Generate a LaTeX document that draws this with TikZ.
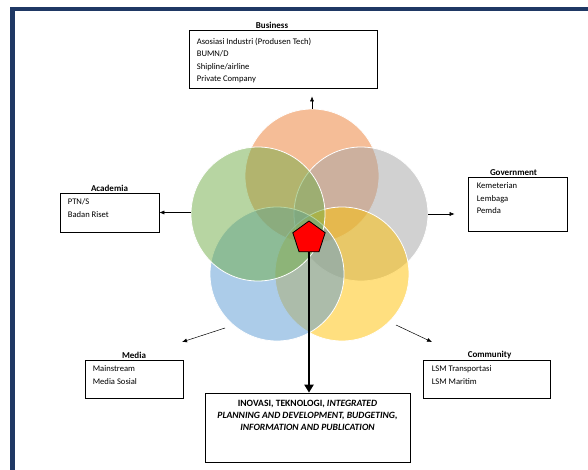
\documentclass[tikz,border=0pt]{standalone}
\usepackage{fontspec}
\setmainfont{Carlito}
\usetikzlibrary{positioning,shapes.geometric,arrows.meta}

\definecolor{framenavy}{HTML}{1F3864}
\definecolor{vorange}{HTML}{ED7D31}
\definecolor{vgray}{HTML}{A5A5A5}
\definecolor{vyellow}{HTML}{FFC000}
\definecolor{vblue}{HTML}{5B9BD5}
\definecolor{vgreen}{HTML}{70AD47}

\tikzset{
  venn/.style={circle, minimum size=134pt, inner sep=0pt, draw=white, line width=0.8pt, fill opacity=0.5},
  boxframe/.style={draw, line width=0.7pt, inner sep=0pt},
  boxtext/.style={font=\fontsize{8.6}{12.3}\selectfont, align=left, inner sep=0pt, anchor=north west},
  boxtitle/.style={font=\fontsize{9}{10}\selectfont\bfseries, inner sep=1pt},
  outarrow/.style={-{Latex[length=5pt,width=4pt]}, line width=0.5pt}
}

\begin{document}
\begin{tikzpicture}[x=1pt,y=-1pt]
\useasboundingbox (0,0) rectangle (588,470);
\fill[white] (0,0) rectangle (588,470);

% frame
\draw[framenavy, line width=4.5pt] (12.25,470) -- (12.25,9.25) -- (588,9.25);

% circles
\node[venn, fill=vorange] (orange) at (312,176) {};
\node[venn, fill=vgray] (gray) at (361,214) {};
\node[venn, fill=vyellow] (yellow) at (342,274) {};
\node[venn, fill=vblue] (blue) at (277,274) {};
\node[venn, fill=vgreen] (green) at (258,214) {};

% centre
\node[regular polygon, regular polygon sides=5, minimum size=34pt, inner sep=0pt,
      fill=red, draw=black, line width=0.8pt] (core) at (309,238) {};

% business
\node[boxframe, minimum width=188pt, minimum height=58pt] (busbox) at (283,59) {};
\node[boxtext] at ([shift={(8,8.5)}]busbox.north west) {Asosiasi Industri (Produsen Tech)\\BUMN/D\\Shipline/airline\\Private Company};
\node[boxtitle, above=0pt of busbox, xshift=-11pt] (bustitle) {Business};

% academia
\node[boxframe, minimum width=99pt, minimum height=39pt] (acabox) at (109.5,212.5) {};
\node[boxtext] at ([shift={(8,6)}]acabox.north west) {PTN/S\\Badan Riset};
\node[boxtitle, above=0pt of acabox] (acatitle) {Academia};

% government
\node[boxframe, minimum width=99pt, minimum height=54pt] (govbox) at (517.5,204) {};
\node[boxtext] at ([shift={(9,6)}]govbox.north west) {Kemeterian\\Lembaga\\Pemda};
\node[boxtitle, above=0pt of govbox, xshift=-4pt] (govtitle) {Government};

% media
\node[boxframe, minimum width=98pt, minimum height=38pt] (medbox) at (134,379) {};
\node[boxtext] at ([shift={(8,6)}]medbox.north west) {Mainstream\\Media Sosial};
\node[boxtitle, above=0pt of medbox] (medtitle) {Media};

% community
\node[boxframe, minimum width=127pt, minimum height=38pt] (combox) at (486.5,379) {};
\node[boxtext] at ([shift={(9,6)}]combox.north west) {LSM Transportasi\\LSM Maritim};
\node[boxtitle, above=0pt of combox, xshift=3pt] (comtitle) {Community};

% output
\node[boxframe, minimum width=205pt, minimum height=69pt] (inobox) at (307.5,427.5) {};
\node[font=\fontsize{9.6}{12}\selectfont\bfseries, align=center, inner sep=0pt, anchor=north]
  at ([yshift=-7pt]inobox.north) {INOVASI, TEKNOLOGI, \textit{INTEGRATED}\\
  \textit{PLANNING AND DEVELOPMENT, BUDGETING,}\\
  \textit{INFORMATION AND PUBLICATION}};

% arrows
\coordinate (medstart) at (225,328);
\coordinate (medend) at (182,342);
\coordinate (comstart) at (396,325);
\coordinate (comend) at (432,342);

\draw[outarrow, shorten >=8pt] (orange.north) -- (orange.north |- busbox.south);
\draw[outarrow] (green.west |- acabox.east) -- (acabox.east);
\draw[outarrow, shorten >=13pt] (gray.east) -- (govbox.west |- gray.east);
\draw[outarrow] (medstart) -- (medend);
\draw[outarrow] (comstart) -- (comend);
\draw[line width=2.8pt, -{Triangle[length=8pt,width=9pt]}] (core.south) -- (core.south |- inobox.north);

\end{tikzpicture}
\end{document}
